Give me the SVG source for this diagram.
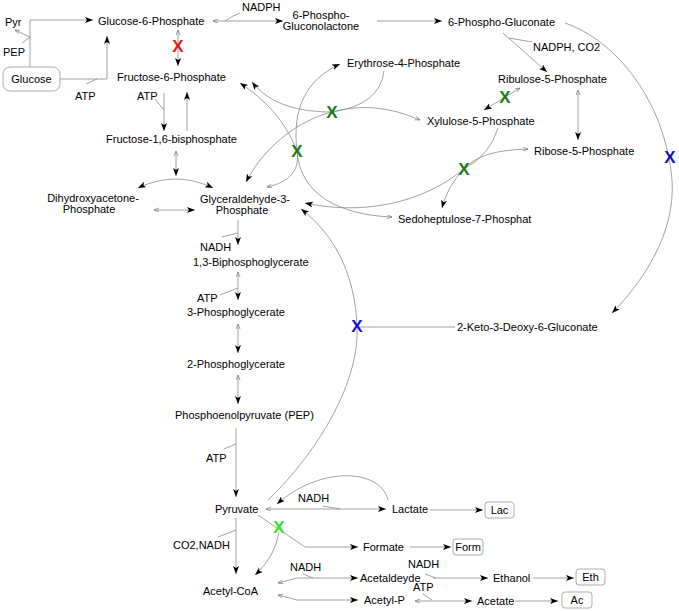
<svg xmlns="http://www.w3.org/2000/svg" width="679" height="611" viewBox="0 0 679 611">
<style>
text{font-family:"Liberation Sans",Arial,sans-serif;font-size:11px;fill:#000}
.c path{fill:none;stroke:#8a8a8a;stroke-width:0.8}
.box{fill:#fff;stroke:#999;stroke-width:0.8}
.x{font-weight:bold;font-size:17px;text-anchor:middle}
.r{fill:#e01818}.g{fill:#1a7a1a}.b{fill:#1414c8}.lg{fill:#33e033}
.m{text-anchor:middle}
</style>
<defs>
<marker id="a" markerUnits="userSpaceOnUse" markerWidth="10" markerHeight="8" refX="8" refY="3" orient="auto-start-reverse"><path d="M0,0 L8,3 L0,6 L2,3 z" fill="#000"/></marker>
<marker id="s" markerUnits="userSpaceOnUse" markerWidth="8" markerHeight="6" refX="5" refY="2" orient="auto-start-reverse"><path d="M0,0 L5,2 L0,4" fill="none" stroke="#777" stroke-width="0.7"/></marker>
</defs>
<g class="c" id="connectors">
<path d="M30,67 V20 H93" marker-end="url(#a)"/>
<path d="M30,37 L15,30" marker-end="url(#s)"/>
<path d="M22,43 L30,37"/>
<path d="M60,79 H107 V36" marker-end="url(#a)"/>
<path d="M86,84 L97,79"/>
<path d="M178,30 V66" marker-start="url(#s)" marker-end="url(#a)"/>
<path d="M164,93 V131" marker-end="url(#a)"/>
<path d="M155,99 L164,110"/>
<path d="M187,131 V92" marker-end="url(#a)"/>
<path d="M176,151 V176" marker-start="url(#s)" marker-end="url(#a)"/>
<path d="M138,188 Q176,170 213,188" marker-start="url(#a)" marker-end="url(#a)"/>
<path d="M154,210 H195" marker-start="url(#s)" marker-end="url(#a)"/>
<path d="M238,220 V245" marker-end="url(#a)"/>
<path d="M238,233 L222,237"/>
<path d="M238,272 V300" marker-start="url(#s)" marker-end="url(#a)"/>
<path d="M238,288 L220,295"/>
<path d="M238,324 V353" marker-start="url(#s)" marker-end="url(#a)"/>
<path d="M238,375 V404" marker-start="url(#s)" marker-end="url(#a)"/>
<path d="M236,428 V497" marker-end="url(#a)"/>
<path d="M236,444 L224,449"/>
<path d="M266,509 H386" marker-start="url(#s)" marker-end="url(#a)"/>
<path d="M323,506 L340,509"/>
<path d="M388,500 C380,468 320,466 277,504" marker-end="url(#a)"/>
<path d="M430,510 H483" marker-end="url(#a)"/>
<path d="M258,515 L305,547 H358" marker-end="url(#a)"/>
<path d="M410,547 H451" marker-end="url(#a)"/>
<path d="M279,532 Q275,557 255,575" marker-end="url(#a)"/>
<path d="M236,518 V574" marker-end="url(#a)"/>
<path d="M236,530 L218,537"/>
<path d="M278,583 L297,578 H358" marker-start="url(#s)" marker-end="url(#a)"/>
<path d="M313,578 L303,574"/>
<path d="M433,578 H488" marker-end="url(#a)"/>
<path d="M425,574 L436,578"/>
<path d="M533,578 H574" marker-end="url(#a)"/>
<path d="M278,595 L297,600 H358" marker-start="url(#s)" marker-end="url(#a)"/>
<path d="M415,601 H472" marker-start="url(#s)" marker-end="url(#a)"/>
<path d="M423,594 L432,600"/>
<path d="M515,601 H558" marker-end="url(#a)"/>
<path d="M213,21 H283" marker-start="url(#s)" marker-end="url(#a)"/>
<path d="M225,21 Q232,16 240,13"/>
<path d="M377,21 H442" marker-end="url(#a)"/>
<path d="M503,33 L547,72" marker-end="url(#a)"/>
<path d="M509,38 L532,42"/>
<path d="M578,90 V140" marker-start="url(#s)" marker-end="url(#a)"/>
<path d="M520,88 L484,110" marker-start="url(#s)" marker-end="url(#a)"/>
<path d="M565,23 C615,40 665,100 672,180 C676,235 640,285 612,313" marker-end="url(#a)"/>
<path d="M455,327 H358"/>
<path d="M268,500 C320,450 360,380 357,326 C355,275 335,235 301,209" marker-end="url(#a)"/>
<path d="M384,71 Q380,105 332,112"/>
<path d="M332,112 Q375,100 420,120" marker-end="url(#s)"/>
<path d="M332,112 C300,112 270,105 252,82" marker-end="url(#a)"/>
<path d="M332,112 C300,120 265,145 246,182" marker-end="url(#a)"/>
<path d="M297,151 C292,110 305,80 340,64" marker-end="url(#a)"/>
<path d="M297,151 C285,120 265,100 240,83" marker-end="url(#a)"/>
<path d="M297,151 C300,170 290,182 267,187" marker-end="url(#s)"/>
<path d="M297,151 C300,195 340,215 392,217" marker-end="url(#s)"/>
<path d="M498,128 Q490,155 464,169"/>
<path d="M528,149 Q480,150 464,169" marker-start="url(#s)"/>
<path d="M464,169 Q448,185 442,208" marker-end="url(#a)"/>
<path d="M464,169 C420,205 360,215 305,203" marker-end="url(#a)"/>
</g>
<g id="n-pyr1"><text x="5" y="26">Pyr</text></g>
<g id="n-pep1"><text x="3" y="56">PEP</text></g>
<g id="n-glucose"><rect class="box" x="3" y="67" width="57" height="24" rx="7"/><text class="m" x="31.5" y="83">Glucose</text></g>
<g id="n-atp1"><text x="75" y="100">ATP</text></g>
<g id="n-g6p"><text x="98" y="25">Glucose-6-Phosphate</text></g>
<g id="n-nadph1"><text x="242" y="11">NADPH</text></g>
<g id="n-6pgl"><text class="m" x="321" y="19">6-Phospho-</text><text class="m" x="321" y="30">Gluconolactone</text></g>
<g id="n-6pg"><text x="448" y="26">6-Phospho-Gluconate</text></g>
<g id="n-f6p"><text x="117" y="81">Fructose-6-Phosphate</text></g>
<g id="n-atp2"><text x="137" y="100">ATP</text></g>
<g id="n-e4p"><text x="347" y="67">Erythrose-4-Phosphate</text></g>
<g id="n-nadphco2"><text x="533" y="51">NADPH, CO2</text></g>
<g id="n-ru5p"><text x="498" y="83">Ribulose-5-Phosphate</text></g>
<g id="n-xu5p"><text x="427" y="125">Xylulose-5-Phosphate</text></g>
<g id="n-fbp"><text x="106" y="143">Fructose-1,6-bisphosphate</text></g>
<g id="n-r5p"><text x="534" y="155">Ribose-5-Phosphate</text></g>
<g id="n-dhap"><text class="m" x="93" y="202">Dihydroxyacetone-</text><text class="m" x="89" y="213">Phosphate</text></g>
<g id="n-gap"><text class="m" x="245" y="203">Glyceraldehyde-3-</text><text class="m" x="242" y="214">Phosphate</text></g>
<g id="n-s7p"><text x="398" y="223">Sedoheptulose-7-Phosphat</text></g>
<g id="n-nadh1"><text x="200" y="251">NADH</text></g>
<g id="n-13bpg"><text x="193" y="266">1,3-Biphosphoglycerate</text></g>
<g id="n-atp3"><text x="197" y="302">ATP</text></g>
<g id="n-3pg"><text x="187" y="316">3-Phosphoglycerate</text></g>
<g id="n-kdpg"><text x="457" y="331">2-Keto-3-Deoxy-6-Gluconate</text></g>
<g id="n-2pg"><text x="187" y="368">2-Phosphoglycerate</text></g>
<g id="n-pep"><text x="175" y="419">Phosphoenolpyruvate (PEP)</text></g>
<g id="n-atp4"><text x="206" y="462">ATP</text></g>
<g id="n-nadh2"><text x="298" y="502">NADH</text></g>
<g id="n-pyruvate"><text x="215" y="513">Pyruvate</text></g>
<g id="n-lactate"><text x="392" y="513">Lactate</text></g>
<g id="n-lac"><rect class="box" x="485" y="502" width="29" height="16" rx="3"/><text class="m" x="499.5" y="514">Lac</text></g>
<g id="n-co2nadh"><text x="173" y="549">CO2,NADH</text></g>
<g id="n-formate"><text x="363" y="551">Formate</text></g>
<g id="n-form"><rect class="box" x="453" y="539" width="30" height="16" rx="3"/><text class="m" x="468" y="551">Form</text></g>
<g id="n-nadh3"><text x="290" y="571">NADH</text></g>
<g id="n-nadh4"><text x="408" y="568">NADH</text></g>
<g id="n-acetaldeyde"><text x="360" y="582">Acetaldeyde</text></g>
<g id="n-ethanol"><text x="493" y="582">Ethanol</text></g>
<g id="n-eth"><rect class="box" x="576" y="569" width="29" height="16" rx="3"/><text class="m" x="590.5" y="581">Eth</text></g>
<g id="n-atp5"><text x="413" y="591">ATP</text></g>
<g id="n-acetylcoa"><text x="203" y="595">Acetyl-CoA</text></g>
<g id="n-acetylp"><text x="364" y="604">Acetyl-P</text></g>
<g id="n-acetate"><text x="477" y="605">Acetate</text></g>
<g id="n-ac"><rect class="box" x="562" y="592" width="30" height="16" rx="3"/><text class="m" x="577" y="604">Ac</text></g>
<g id="knockouts">
<text class="x r" x="178" y="52">X</text>
<text class="x g" x="332" y="118">X</text>
<text class="x g" x="297" y="157">X</text>
<text class="x g" x="505" y="103">X</text>
<text class="x g" x="464" y="175">X</text>
<text class="x b" x="670" y="163">X</text>
<text class="x b" x="357" y="332">X</text>
<text class="x lg" x="279" y="533">X</text>
</g>
</svg>
